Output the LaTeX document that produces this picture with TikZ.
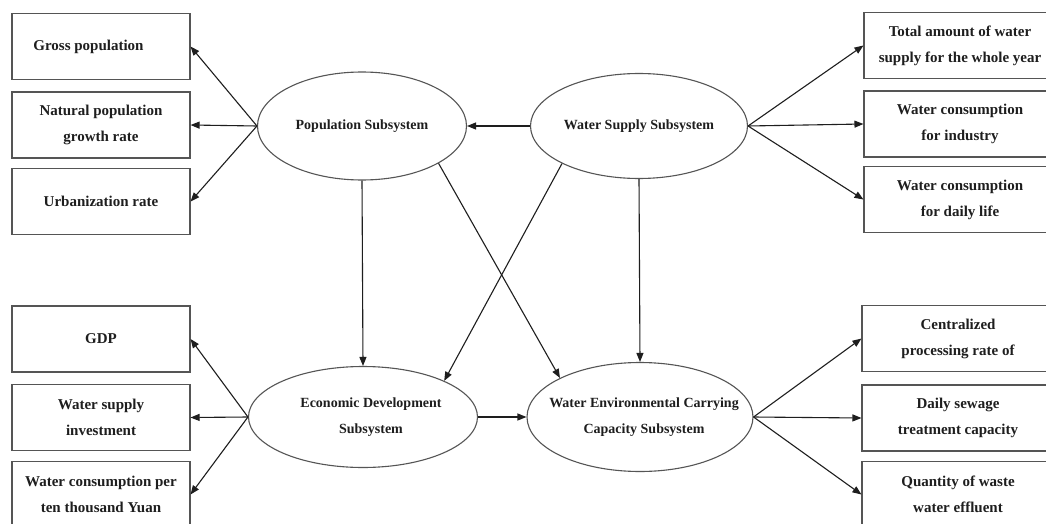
\documentclass[tikz,border=0pt]{standalone}
\usepackage{fontspec}
\setmainfont{Liberation Serif}
\usetikzlibrary{arrows.meta,shapes.geometric}
\definecolor{edge}{HTML}{555555}
\definecolor{ink}{HTML}{1E1E1E}
\tikzset{
  box/.style={draw=edge, line width=1.1pt, rectangle, inner sep=0pt, minimum width=178pt, minimum height=66pt,
    align=center, text=ink, font=\fontsize{15}{26}\selectfont\bfseries},
  rbox/.style={box, minimum width=192pt},
  sub/.style={draw=edge, line width=1.1pt, ellipse, inner sep=0pt},
  sublabel/.style={align=center, text=ink, font=\fontsize{14}{26}\selectfont\bfseries},
  link/.style={draw=ink, line width=1.1pt, -{Triangle[length=9pt,width=7pt]}}
}
\begin{document}
\begin{tikzpicture}[x=1pt,y=-1pt]
\useasboundingbox[fill=white] (0,0) rectangle (1046,524);
% subsystems
\node[sub, minimum width=209pt, minimum height=108pt,
  label={[sublabel]center:Population Subsystem}] (pop) at (362,126) {};
\node[sub, minimum width=217pt, minimum height=105pt,
  label={[sublabel]center:Water Supply Subsystem}] (ws) at (639,126) {};
\node[sub, minimum width=229pt, minimum height=101pt,
  label={[sublabel, xshift=8pt]center:Economic Development\\Subsystem}] (eco) at (363,417) {};
\node[sub, minimum width=226pt, minimum height=109pt,
  label={[sublabel, xshift=4pt]center:Water Environmental Carrying\\Capacity Subsystem}] (we) at (640,417) {};
% left boxes
\node[box] (gross) at (101,46.5) {Gross population\hspace{25pt}};
\node[box] (natural) at (101,125) {Natural population\\growth rate};
\node[box] (urban) at (101,201.5) {Urbanization rate};
\node[box] (gdp) at (101,339) {GDP};
\node[box] (wsi) at (101,417.5) {Water supply\\investment};
\node[box] (wcp) at (101,494.5) {Water consumption per\\ten thousand Yuan};
% right boxes
\node[rbox] (total) at (960,45.5) {Total amount of water\\supply for the whole year};
\node[rbox] (ind) at (960,124) {Water consumption\\for industry};
\node[rbox] (daily) at (960,199.5) {Water consumption\\for daily life};
\node[rbox] (central) at (958,338.5) {Centralized\\processing rate of};
\node[rbox] (sewage) at (958,418) {Daily sewage\\treatment capacity};
\node[rbox] (waste) at (958,494.5) {Quantity of waste\\water effluent};
% fans
\draw[link] (pop.west) -- (gross.east);
\draw[link] (pop.west) -- (natural.east);
\draw[link] (pop.west) -- (urban.east);
\draw[link] (ws.east) -- (total.west);
\draw[link] (ws.east) -- (ind.west);
\draw[link] (ws.east) -- (daily.west);
\draw[link] (eco.west) -- (gdp.east);
\draw[link] (eco.west) -- (wsi.east);
\draw[link] (eco.west) -- (wcp.east);
\draw[link] (we.east) -- (central.west);
\draw[link] (we.east) -- (sewage.west);
\draw[link] (we.east) -- (waste.west);
% internal links
\draw[link] (ws.west) -- (pop.east);
\draw[link] (pop.south) -- (eco.north);
\draw[link] (pop.-26) -- (we.154);
\draw[link] (ws.206) -- (eco.24);
\draw[link] (ws.south) -- (we.north);
\draw[link] (eco.east) -- (we.west);
\end{tikzpicture}
\end{document}
